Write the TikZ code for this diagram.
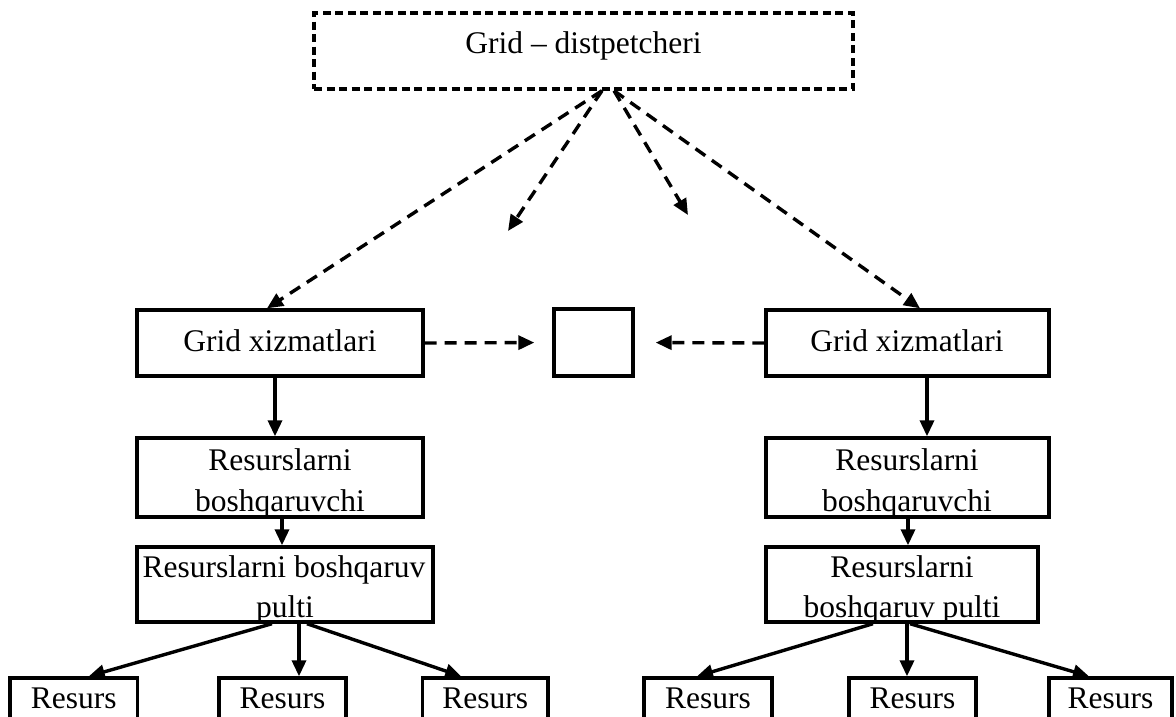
\documentclass[tikz,border=0pt]{standalone}
\usepackage{fontspec}
\setmainfont{Liberation Serif}
\usetikzlibrary{arrows.meta}
\begin{document}
\begin{tikzpicture}[x=1pt,y=-1pt,
  box/.style={draw,line width=3.4pt,inner sep=0pt,rectangle},
  dbox/.style={box,dash pattern=on 8pt off 4.5pt},
  txt/.style={inner sep=0pt,anchor=base,font=\fontsize{31.5}{41}\selectfont},
  arr/.style={line width=3.4pt,-{Triangle[length=16pt,width=14pt]}},
  darr/.style={arr,dash pattern=on 12pt off 8pt}]
\useasboundingbox (0,0) rectangle (1176,716);
\fill[white] (0,0) rectangle (1176,716);
\clip (0,0) rectangle (1176,716);
% boxes
\node[dbox,minimum width=539pt,minimum height=76pt] (top) at (583.5,51) {};
\node[box,minimum width=286pt,minimum height=66pt] (gx1) at (280,343) {};
\node[box,minimum width=283pt,minimum height=66pt] (gx2) at (907.5,343) {};
\node[box,minimum width=79pt,minimum height=67pt] (sb) at (593.5,342.5) {};
\node[box,minimum width=286pt,minimum height=79pt] (rb1) at (280,477.5) {};
\node[box,minimum width=283pt,minimum height=79pt] (rb2) at (907.5,477.5) {};
\node[box,minimum width=296pt,minimum height=75pt] (rbp1) at (285,584.5) {};
\node[box,minimum width=272pt,minimum height=75pt] (rbp2) at (902,584.5) {};
\node[box,minimum width=127.5pt,minimum height=60pt] (r1) at (73.75,708) {};
\node[box,minimum width=127pt,minimum height=60pt] (r2) at (282.5,708) {};
\node[box,minimum width=125.5pt,minimum height=60pt] (r3) at (485.25,708) {};
\node[box,minimum width=128pt,minimum height=60pt] (r4) at (708,708) {};
\node[box,minimum width=127pt,minimum height=60pt] (r5) at (912.5,708) {};
\node[box,minimum width=123pt,minimum height=60pt] (r6) at (1110.5,708) {};
% texts
\node[txt] (ttop) at (583.5,53) {Grid – distpetcheri};
\node[txt] (tgx1) at (280,351) {Grid xizmatlari};
\node[txt] (tgx2) at (907,351) {Grid xizmatlari};
\node[txt] (trb1a) at (280,470) {Resurslarni};
\node[txt] (trb1b) at (280,511) {boshqaruvchi};
\node[txt] (trb2a) at (907,470) {Resurslarni};
\node[txt] (trb2b) at (907,511) {boshqaruvchi};
\node[txt] (trbp1a) at (284,577) {Resurslarni boshqaruv};
\node[txt] (trbp1b) at (285,617) {pulti};
\node[txt] (trbp2a) at (902,577) {Resurslarni};
\node[txt] (trbp2b) at (902,617) {boshqaruv pulti};
\node[txt] (tr1) at (73.75,708) {Resurs};
\node[txt] (tr2) at (282.5,708) {Resurs};
\node[txt] (tr3) at (485.25,708) {Resurs};
\node[txt] (tr4) at (708,708) {Resurs};
\node[txt] (tr5) at (912.5,708) {Resurs};
\node[txt] (tr6) at (1110.5,708) {Resurs};
% free ends of short arrows
\coordinate (ls) at (508,231);
\coordinate (rs) at (688,215);
% dashed connectors
\draw[darr] ([xshift=18.5pt]top.south) -- ([xshift=-13pt]gx1.north);
\draw[darr] ([xshift=18.5pt]top.south) -- (ls);
\draw[darr] ([xshift=30.5pt]top.south) -- (rs);
\draw[darr] ([xshift=30.5pt]top.south) -- ([xshift=12.5pt]gx2.north);
\draw[darr,shorten >=18pt] (gx1.east) -- (sb.west);
\draw[darr,shorten >=21pt] (gx2.west) -- (sb.east);
% solid connectors
\draw[arr] ([xshift=-5pt]gx1.south) -- ([xshift=-5pt]rb1.north);
\draw[arr] ([xshift=19.5pt]gx2.south) -- ([xshift=19.5pt]rb2.north);
\draw[arr] ([xshift=2pt]rb1.south) -- ([xshift=-3pt]rbp1.north);
\draw[arr] ([xshift=0.5pt]rb2.south) -- ([xshift=6pt]rbp2.north);
\draw[arr] ([xshift=-13pt]rbp1.south) -- ([xshift=15pt]r1.north);
\draw[arr] ([xshift=14pt]rbp1.south) -- ([xshift=16.5pt]r2.north);
\draw[arr] ([xshift=22pt]rbp1.south) -- ([xshift=-24pt]r3.north);
\draw[arr] ([xshift=-29pt]rbp2.south) -- ([xshift=-11pt]r4.north);
\draw[arr] ([xshift=5pt]rbp2.south) -- ([xshift=-5.5pt]r5.north);
\draw[arr] ([xshift=8pt]rbp2.south) -- ([xshift=-21.5pt]r6.north);
\end{tikzpicture}
\end{document}
